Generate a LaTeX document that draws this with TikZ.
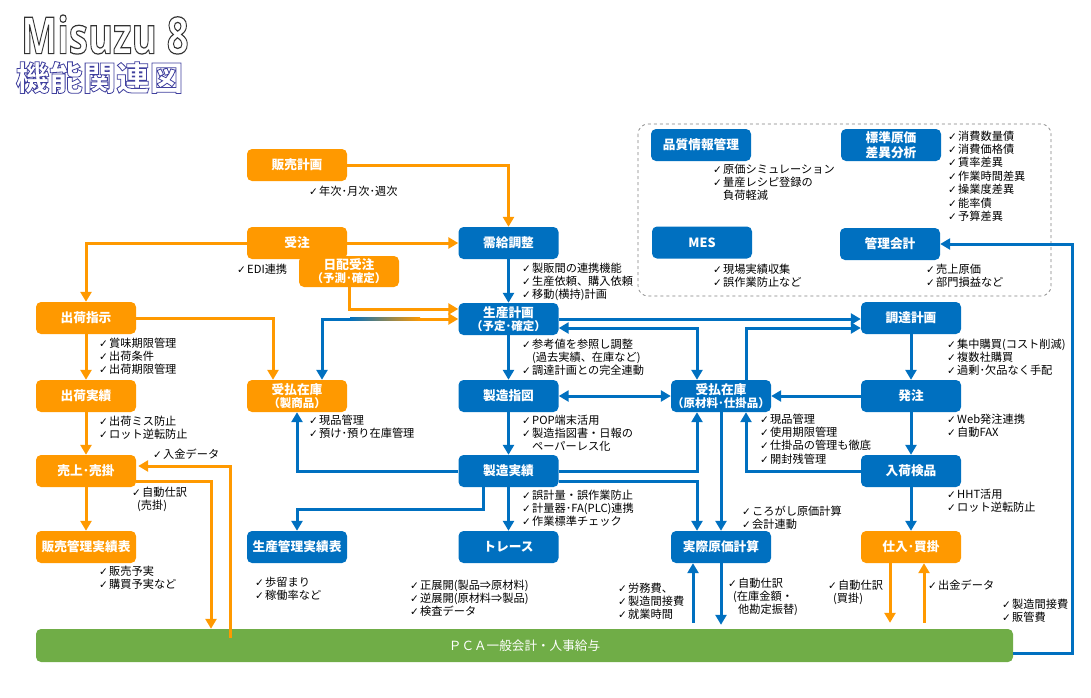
\documentclass[tikz,border=0pt]{standalone}
\usepackage{fontspec}
\usepackage{xcolor}
\usetikzlibrary{calc}
\usetikzlibrary{arrows.meta}
\setmainfont{Noto Sans CJK JP}
\newfontfamily\symfont{DejaVu Sans}
\newfontfamily\titlefont{Open Sans}
\definecolor{fblue}{HTML}{0070C0}
\definecolor{forange}{HTML}{FF9900}
\definecolor{fgreen}{HTML}{70AD47}
\newcommand{\chk}{\makebox[10pt][l]{\symfont\fontsize{10.5}{10}\selectfont ✓}}
\newcommand{\ind}{\hspace*{10pt}}
\newcommand{\sublabel}[1]{{\fontsize{11.5}{12}\selectfont #1}}
\newcommand{\hollow}[2]{\special{pdf:code q 2 Tr #1}#2\special{pdf:code Q}}
\tikzset{
  x=1pt,y=-1pt,
  box/.style={rounded corners=5pt,minimum width=100pt,minimum height=32pt,inner sep=0pt,
    text=white,font=\bfseries\fontsize{12.7}{15}\selectfont,align=center},
  bluebox/.style={box,fill=fblue},
  orangebox/.style={box,fill=forange},
  note/.style={anchor=north west,inner sep=0pt,align=left,text=black,yshift=-1.5pt,
    font=\fontsize{11.2}{13.4}\selectfont},
  barrow/.style={draw=fblue,line width=3pt,-{Triangle[length=10pt,width=11pt]}},
  oarrow/.style={draw=forange,line width=3pt,-{Triangle[length=10pt,width=11pt]}},
  bdouble/.style={barrow,{Triangle[length=10pt,width=11pt]}-{Triangle[length=10pt,width=11pt]}},
}
\begin{document}
\begin{tikzpicture}
        \useasboundingbox (0,0) rectangle (1091,697);
        \node[anchor=west,inner sep=0pt,text=white,font=\titlefont\bfseries\fontsize{51}{54}\selectfont] (title) at (21,34.5) {\scalebox{0.75}[1]{\hollow{1.2 w 0.2 G}{Misuzu 8}}};
        \node[anchor=west,inner sep=0pt,text=white,font=\bfseries\fontsize{33.5}{36}\selectfont] (subtitle) at (15.5,77.5) {\hollow{0.8 w 0.25 0.25 0.62 RG}{機能関連図}};

        \draw[gray,dashed,rounded corners=10pt,line width=0.7pt] (638,124) rectangle (1051,296);

        \node[orangebox] (hanbai) at (297,165) {販売計画};
        \node[orangebox] (juchu) at (297,243) {受注};
        \node[orangebox,minimum height=31pt] (nichihai) at (349,271.5) {日配受注\\[-2pt]\sublabel{（予測･確定）}};
        \node[orangebox] (shiji) at (86,318) {出荷指示};
        \node[orangebox] (jisseki) at (86,396) {出荷実績};
        \node[orangebox] (uriage) at (86,471) {売上･売掛};
        \node[orangebox] (hyo) at (86,547) {販売管理実績表};
        \node[orangebox] (zaikoA) at (297,396) {受払在庫\\[-2pt]\sublabel{（製商品）}};
        \node[orangebox] (shiire) at (911,547) {仕入･買掛};

        \node[bluebox] (jukyu) at (508.5,243) {需給調整};
        \node[bluebox] (keikaku) at (508.5,319) {生産計画\\[-2pt]\sublabel{（予定･確定）}};
        \node[bluebox] (shizu) at (508.5,396) {製造指図};
        \node[bluebox] (seizo) at (508.5,471) {製造実績};
        \node[bluebox] (trace) at (508.5,547) {トレース};
        \node[bluebox] (kanrihyo) at (297,547) {生産管理実績表};
        \node[bluebox] (zaikoB) at (721,396) {受払在庫\\[-2pt]\sublabel{（原材料･仕掛品）}};
        \node[bluebox] (genka) at (721,547) {実際原価計算};
        \node[bluebox] (chotatsu) at (911,318) {調達計画};
        \node[bluebox] (hatchu) at (911,396) {発注};
        \node[bluebox] (nyuka) at (911,471) {入荷検品};
        \node[bluebox] (hinshitsu) at (701,145) {品質情報管理};
        \node[bluebox] (hyojun) at (891,145) {標準原価\\差異分析};
        \node[bluebox] (mes) at (702,242.5) {MES};
        \node[bluebox] (kanri) at (890,244) {管理会計};

        \node[fill=fgreen,rounded corners=5pt,minimum width=977pt,minimum height=33pt,inner sep=0pt,text=white,font=\fontsize{12.6}{15}\selectfont] (pca) at (524.5,645.5) {ＰＣＡ一般会計・人事給与};

        \coordinate (gradL) at (350,319);
        \coordinate (gradR) at (420,319);

        \draw[oarrow] (hanbai.east) -| (jukyu.north);
        \draw[oarrow] (juchu.east) -- (jukyu.west);
        \draw[oarrow] (juchu.west) -| (shiji.north);
        \draw[oarrow] (nichihai.south) |- ([yshift=10pt]keikaku.west);
        \draw[oarrow] (shiji.east) -| ([xshift=-24pt]zaikoA.north);
        \draw[oarrow] (shiji.south) -- (jisseki.north);
        \draw[oarrow] (jisseki.south) -- (uriage.north);
        \draw[oarrow] (uriage.south) -- (hyo.north);
        \draw[oarrow] ([yshift=-10pt]uriage.east) -| ([xshift=-313.5pt]pca.north);
        \draw[oarrow] ([xshift=-294.5pt,yshift=-9pt]pca.north) |- ([xshift=2pt,yshift=5pt]uriage.east);
        \draw[oarrow] (gradR) -- (keikaku.west);
        \fill[left color=fblue,middle color=black!15,right color=forange] ($(gradL)+(0,-1.5)$) rectangle ($(gradR)+(0,1.5)$);
        \draw[barrow] (gradL) -| ([xshift=25pt]zaikoA.north);

        \draw[barrow] (jukyu.south) -- (keikaku.north);
        \draw[barrow] (keikaku.south) -- (shizu.north);
        \draw[barrow] (shizu.south) -- (seizo.north);
        \draw[barrow] (seizo.south) -- (trace.north);
        \draw[bdouble] (shizu.east) -- (zaikoB.west);
        \draw[barrow] (keikaku.east) -- (keikaku.east -| chotatsu.west);
        \draw[bdouble] ([yshift=-9pt]keikaku.east) -| ([xshift=-24pt]zaikoB.north);
        \draw[barrow] ([xshift=25pt]zaikoB.north) |- ([yshift=-10pt]chotatsu.west);
        \draw[barrow] (hatchu.west) -- (zaikoB.east);
        \draw[barrow] (chotatsu.south) -- (hatchu.north);
        \draw[barrow] (hatchu.south) -- (nyuka.north);
        \draw[barrow] (nyuka.south) -- (shiire.north);
        \draw[barrow] (nyuka.west) -| ([xshift=25pt]zaikoB.south);
        \draw[barrow] (seizo.east) -| ([xshift=-24pt]zaikoB.south);
        \draw[barrow] ([yshift=-10pt]seizo.east) -| ([xshift=-24pt]genka.north);
        \draw[barrow] (zaikoB.south) -- (genka.north);
        \draw[barrow] (seizo.west) -| (zaikoA.south);
        \draw[barrow] ([xshift=-25pt]seizo.south) |- ($(kanrihyo.north)+(0,-21)$) -- (kanrihyo.north);
        \draw[barrow,shorten <=6pt] ($(pca.north -| genka.south)+(-28,0)$) -- ([xshift=-28pt]genka.south);
        \draw[barrow,shorten >=4pt] (genka.south) -- (pca.north -| genka.south);
        \draw[oarrow,shorten >=6pt] ([xshift=-21pt]shiire.south) -- ($(pca.north -| shiire.south)+(-21,0)$);
        \draw[oarrow,shorten <=6pt] ($(pca.north -| shiire.south)+(13,0)$) -- ([xshift=13pt]shiire.south);
        \draw[barrow] ([yshift=-8pt]pca.east) -| (1072,244) -- (kanri.east);

        \node[note] (n1) at (309,184) {\chk 年次･月次･週次};
        \node[note] (n2) at (237,262) {\chk EDI連携};
        \node[note] (n3) at (713,162) {\chk 原価シミュレーション\\\chk 量産レシピ登録の\\\ind 負荷軽減};
        \node[note] (n4) at (948,129) {\chk 消費数量債\\\chk 消費価格債\\\chk 賃率差異\\\chk 作業時間差異\\\chk 操業度差異\\\chk 能率債\\\chk 予算差異};
        \node[note] (n5) at (713,262) {\chk 現場実績収集\\\chk 誤作業防止など};
        \node[note] (n6) at (926,262) {\chk 売上原価\\\chk 部門損益など};
        \node[note] (n7) at (522,261) {\chk 製販間の連携機能\\\chk 生産依頼、購入依頼\\\chk 移動(横持)計画};
        \node[note] (n8) at (522,337) {\chk 参考値を参照し調整\\\ind (過去実績、在庫など)\\\chk 調達計画との完全連動};
        \node[note] (n9) at (522,413) {\chk POP端末活用\\\chk 製造指図書・日報の\\\ind ペーパーレス化};
        \node[note] (n10) at (947,337) {\chk 集中購買(コスト削減)\\\chk 複数社購買\\\chk 過剰･欠品なく手配};
        \node[note] (n11) at (947,412) {\chk Web発注連携\\\chk 自動FAX};
        \node[note] (n12) at (760,412) {\chk 現品管理\\\chk 使用期限管理\\\chk 仕掛品の管理も徹底\\\chk 開封残管理};
        \node[note] (n13) at (947,487) {\chk HHT活用\\\chk ロット逆転防止};
        \node[note] (n14) at (742,504) {\chk ころがし原価計算\\\chk 会計連動};
        \node[note] (n15) at (99,336) {\chk 賞味期限管理\\\chk 出荷条件\\\chk 出荷期限管理};
        \node[note] (n16) at (99,414) {\chk 出荷ミス防止\\\chk ロット逆転防止};
        \node[note] (n17) at (153,447) {\chk 入金データ};
        \node[note] (n18) at (132,485) {\chk 自動仕訳\\\hspace*{5pt}(売掛)};
        \node[note] (n19) at (309,413) {\chk 現品管理\\\chk 預け･預り在庫管理};
        \node[note] (n20) at (99,564) {\chk 販売予実\\\chk 購買予実など};
        \node[note] (n21) at (255,575) {\chk 歩留まり\\\chk 稼働率など};
        \node[note] (n22) at (522,488) {\chk 誤計量・誤作業防止\\\chk 計量器･FA(PLC)連携\\\chk 作業標準チェック};
        \node[note] (n23) at (410,578) {\chk 正展開(製品⇒原材料)\\\chk 逆展開(原材料⇒製品)\\\chk 検査データ};
        \node[note] (n24) at (618,581) {\chk 労務費、\\\chk 製造間接費\\\chk 就業時間};
        \node[note] (n25) at (728,576) {\chk 自動仕訳\\\hspace*{5pt}(在庫金額・\\\ind 他勘定振替)};
        \node[note] (n26) at (828,578) {\chk 自動仕訳\\\hspace*{5pt}(買掛)};
        \node[note] (n27) at (928,578) {\chk 出金データ};
        \node[note] (n28) at (1002,597) {\chk 製造間接費\\\chk 販管費};
      \end{tikzpicture}
\end{document}
